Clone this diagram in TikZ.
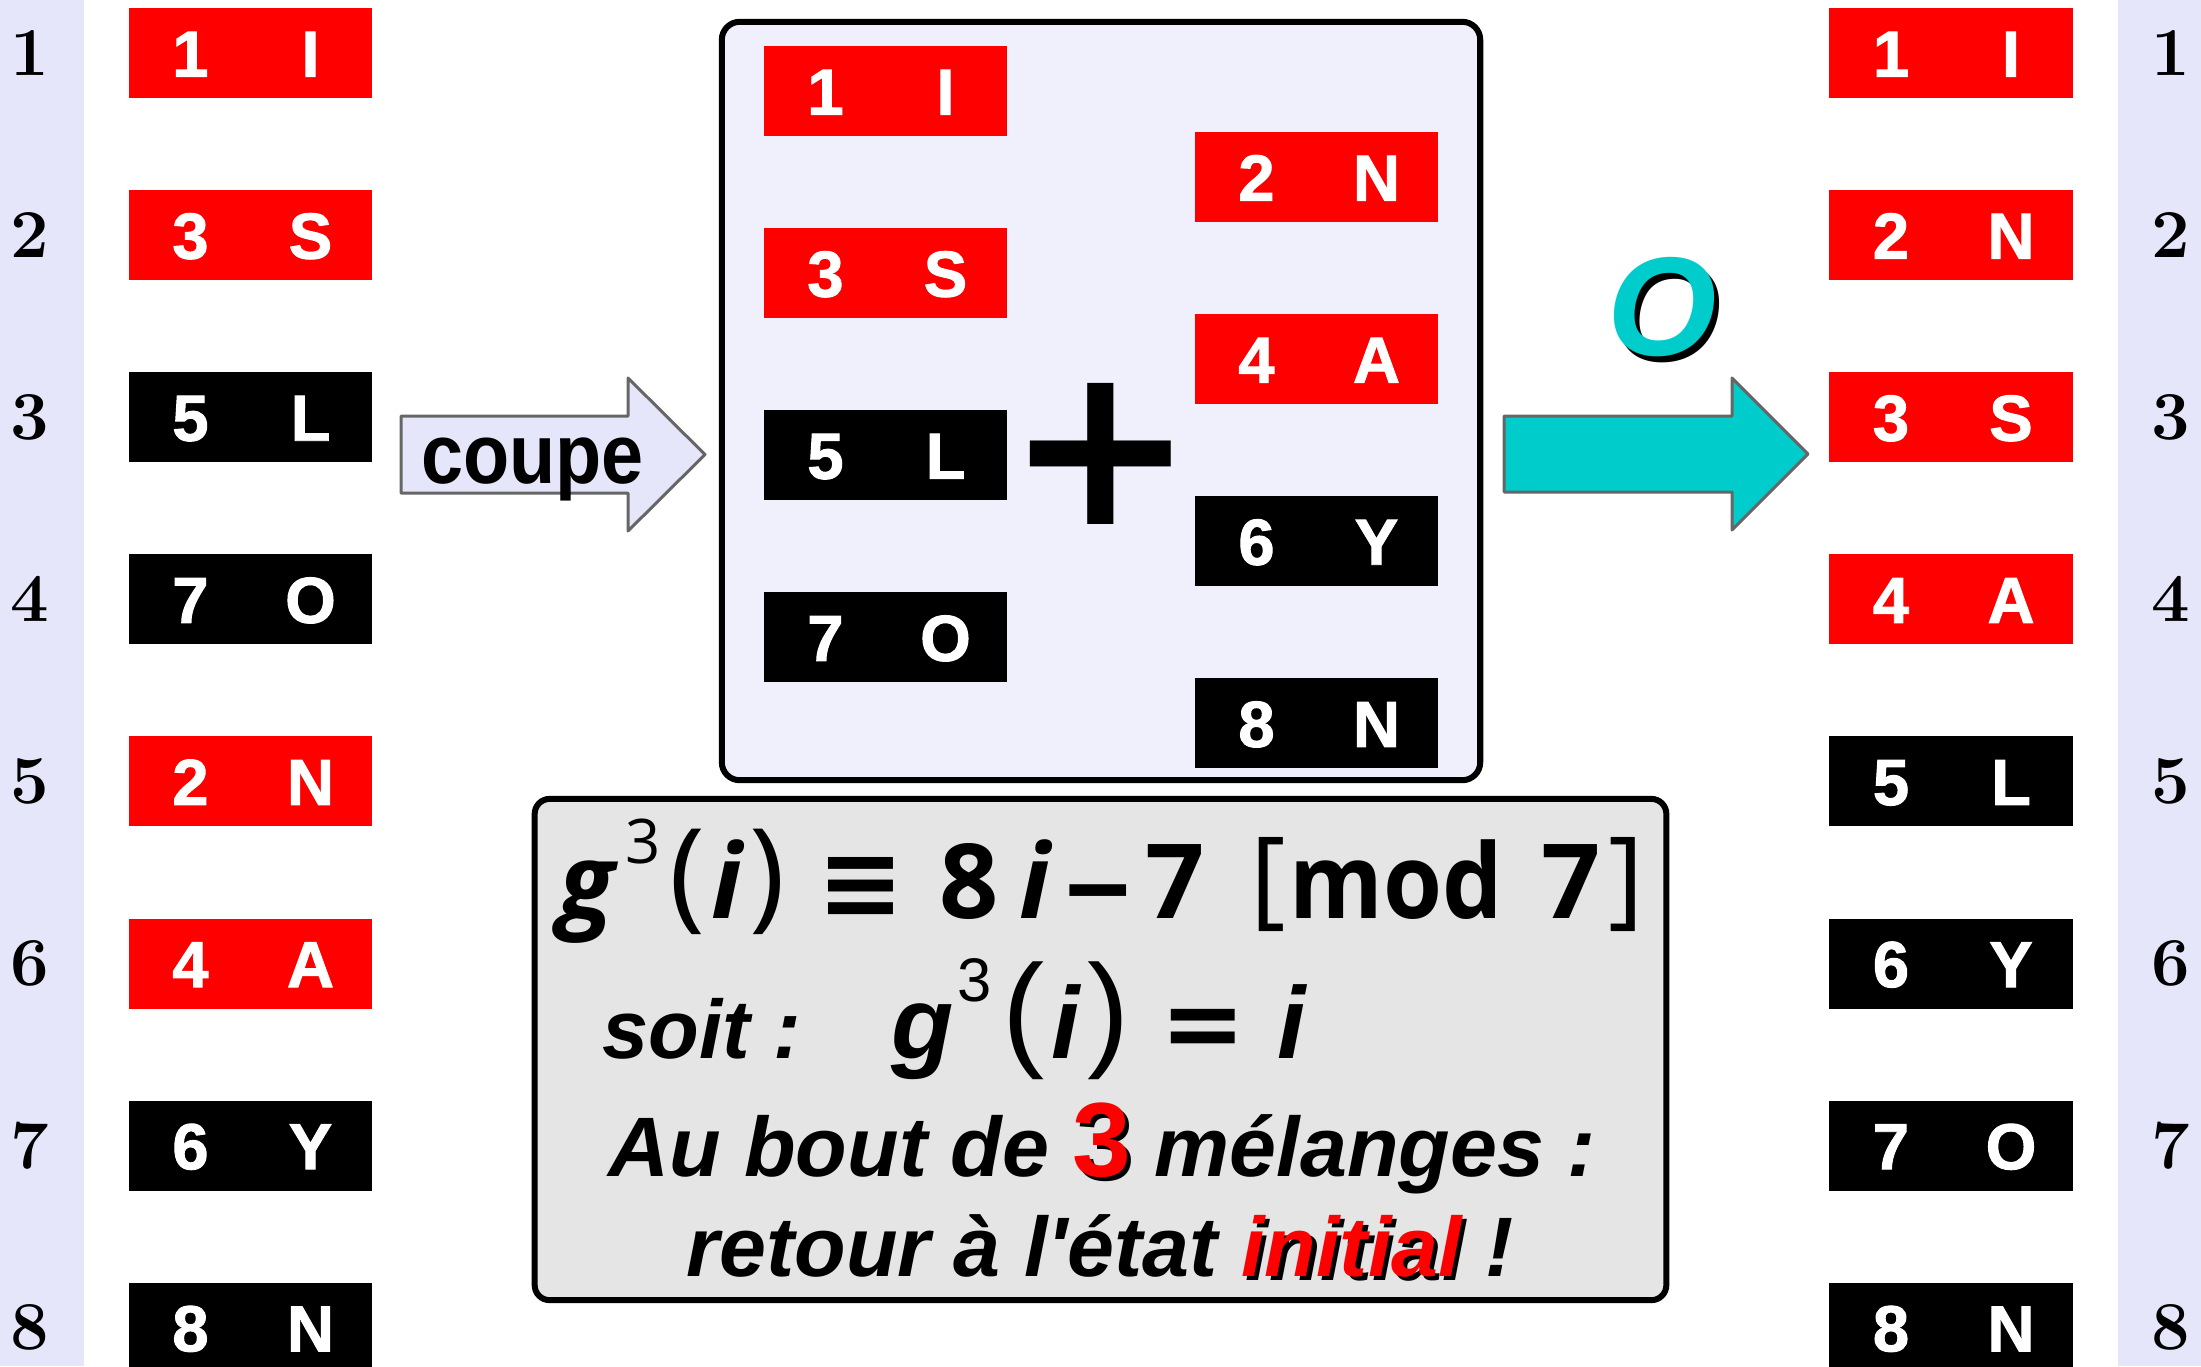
\documentclass[tikz,border=0pt]{standalone}
\usepackage{fontspec}
\usepackage{graphicx}
\usepackage{xcolor}
\usetikzlibrary{positioning}
\newfontfamily\sansfont{Liberation Sans}
\newfontfamily\humanfont{Open Sans}
\newfontfamily\dejavu{DejaVu Sans}
\definecolor{rouge}{RGB}{255,0,0}
\definecolor{lavande}{RGB}{230,230,250}
\definecolor{boitefond}{RGB}{240,240,253}
\definecolor{grisfond}{RGB}{229,229,229}
\definecolor{bord}{RGB}{102,102,102}
\definecolor{cyanfleche}{RGB}{0,204,204}
\newcommand\paire[2]{\makebox[1.2cm]{#1}\makebox[1.2cm]{#2}}
\newcommand\ombre[3][1.2pt]{\rlap{\kern#1\raisebox{-#1}{\color{black}#3}}\textcolor{#2}{#3}}
\newcommand\grand[3]{\raisebox{#1}{\mdseries\upshape\fontsize{#2}{#2}\selectfont #3}}

\begin{document}
\begin{tikzpicture}[x=0.01cm, y=-0.01cm,
		carte/.style={minimum width=2.43cm, minimum height=0.9cm, inner sep=0pt, outer sep=0pt,
			text height=0.47cm, text depth=0pt, text=white,
			font=\sansfont\bfseries\addfontfeatures{FakeBold=1.5}\fontsize{18.5}{22}\selectfont},
		rcarte/.style={carte, fill=rouge},
		ncarte/.style={carte, fill=black},
		rang/.style={inner sep=0pt,
			font=\rmfamily\bfseries\addfontfeatures{FakeBold=2}\fontsize{19.5}{23}\selectfont},
		boite/.style={draw, line width=0.06cm, rounded corners=0.18cm, fill=boitefond,
			minimum width=7.58cm, minimum height=7.58cm},
		cadre/.style={draw, line width=0.06cm, rounded corners=0.15cm, fill=grisfond,
			minimum width=11.31cm, minimum height=5.01cm},
		fleche/.style={draw=bord, line width=0.03cm, line join=round},
		ligne/.style={anchor=base, inner sep=0pt,
			font=\sansfont\bfseries\itshape\fontsize{24}{29}\selectfont}]
	\useasboundingbox (0,0) rectangle (2201,1366);
	\fill[lavande] (0,0) rectangle (84,1366);
	\fill[lavande] (2118,0) rectangle (2201,1366);
	\node[boite] (melange) at (1101,401) {};
	\node[cadre] (formule) at (1100.5,1049.5) {};
	\node[rcarte] (g1) at (250.5,53) {\paire{1}{I}};
	\node[rcarte, below=0.92cm of g1] (g2) {\paire{3}{S}};
	\node[ncarte, below=0.92cm of g2] (g3) {\paire{5}{L}};
	\node[ncarte, below=0.92cm of g3] (g4) {\paire{7}{O}};
	\node[rcarte, below=0.92cm of g4] (g5) {\paire{2}{N}};
	\node[rcarte, below=0.92cm of g5] (g6) {\paire{4}{A}};
	\node[ncarte, below=0.92cm of g6] (g7) {\paire{6}{Y}};
	\node[ncarte, below=0.92cm of g7] (g8) {\paire{8}{N}};
	\node[rcarte] (m1) at (885.5,91) {\paire{1}{I}};
	\node[rcarte, below=0.92cm of m1] (m3) {\paire{3}{S}};
	\node[ncarte, below=0.92cm of m3] (m5) {\paire{5}{L}};
	\node[ncarte, below=0.92cm of m5] (m7) {\paire{7}{O}};
	\node[rcarte] (m2) at (1316.5,177) {\paire{2}{N}};
	\node[rcarte, below=0.92cm of m2] (m4) {\paire{4}{A}};
	\node[ncarte, below=0.92cm of m4] (m6) {\paire{6}{Y}};
	\node[ncarte, below=0.92cm of m6] (m8) {\paire{8}{N}};
	\node[rcarte] (d1) at (1951,53) {\paire{1}{I}};
	\node[rcarte, below=0.92cm of d1] (d2) {\paire{2}{N}};
	\node[rcarte, below=0.92cm of d2] (d3) {\paire{3}{S}};
	\node[rcarte, below=0.92cm of d3] (d4) {\paire{4}{A}};
	\node[ncarte, below=0.92cm of d4] (d5) {\paire{5}{L}};
	\node[ncarte, below=0.92cm of d5] (d6) {\paire{6}{Y}};
	\node[ncarte, below=0.92cm of d6] (d7) {\paire{7}{O}};
	\node[ncarte, below=0.92cm of d7] (d8) {\paire{8}{N}};
	\node[rang] (a1) at (30,0 |- g1) {1};
	\node[rang] (a2) at (30,0 |- g2) {2};
	\node[rang] (a3) at (30,0 |- g3) {3};
	\node[rang] (a4) at (30,0 |- g4) {4};
	\node[rang] (a5) at (30,0 |- g5) {5};
	\node[rang] (a6) at (30,0 |- g6) {6};
	\node[rang] (a7) at (30,0 |- g7) {7};
	\node[rang] (a8) at (30,0 |- g8) {8};
	\node[rang] (b1) at (2171,0 |- d1) {1};
	\node[rang] (b2) at (2171,0 |- d2) {2};
	\node[rang] (b3) at (2171,0 |- d3) {3};
	\node[rang] (b4) at (2171,0 |- d4) {4};
	\node[rang] (b5) at (2171,0 |- d5) {5};
	\node[rang] (b6) at (2171,0 |- d6) {6};
	\node[rang] (b7) at (2171,0 |- d7) {7};
	\node[rang] (b8) at (2171,0 |- d8) {8};
	\node[inner sep=0pt, font=\dejavu\bfseries\fontsize{64}{70}\selectfont] (plus) at (1101,454) {+};
	\draw[fleche, fill=lavande] (401,416) -- (628,416) -- (628,378) -- (705,454.5)
		-- (628,531) -- (628,493) -- (401,493) -- cycle;
	\node[anchor=base, inner sep=0pt, font=\sansfont\bfseries\fontsize{21.5}{26}\selectfont]
		(coupe) at (532.5,483) {\scalebox{1}[1.12]{coupe}};
	\draw[fleche, fill=cyanfleche] (1504,416) -- (1732,416) -- (1732,378) -- (1808,454)
		-- (1732,530) -- (1732,492) -- (1504,492) -- cycle;
	\node[inner sep=0pt, font=\sansfont\bfseries\itshape\fontsize{40}{48}\selectfont]
		(rond) at (1662,310) {\ombre[1.5pt]{cyanfleche}{O}};
	\node[anchor=base, inner sep=0pt, font=\humanfont\bfseries\fontsize{29.5}{35}\selectfont]
		(congru) at (1101,918) {{\itshape g}\kern3pt\grand{15.4pt}{17.5}{3}\kern2.5pt%
		\grand{0.8pt}{34.4}{(}\kern2pt{\itshape i}\kern2pt\grand{0.8pt}{34.4}{)}%
		\hspace{9pt}{\dejavu ≡}\hspace{10pt}8\kern6pt{\itshape i}\kern4pt%
		\scalebox{1.3}[1]{–}\kern4pt 7\hspace{13pt}\grand{1.1pt}{30.7}{[}\kern1pt
		\scalebox{0.92}[1]{mod}\hspace{11pt}7\kern2pt\grand{1.1pt}{30.7}{]}};
	\node[anchor=base west, inner sep=0pt, font=\sansfont\bfseries\itshape\fontsize{23.6}{28}\selectfont]
		(soit) at (602,1058) {\makebox[2.89cm][l]{soit :}{\fontsize{29}{35}\selectfont g\kern1pt%
		\grand{16pt}{17.5}{3}\kern3pt\grand{1.4pt}{36}{(}\kern2pt i\kern2pt\grand{1.4pt}{36}{)}%
		\hspace{9pt}{\dejavu\upshape =}\hspace{9pt}i}};
	\node[ligne] (bout) at (1102,1176)
		{Au bout de {\upshape\fontsize{30}{36}\selectfont\ombre{rouge}{3}} mélanges :};
	\node[ligne] (retour) at (1100,1276) {retour à l'état \ombre{rouge}{initial} !};
\end{tikzpicture}
\end{document}
